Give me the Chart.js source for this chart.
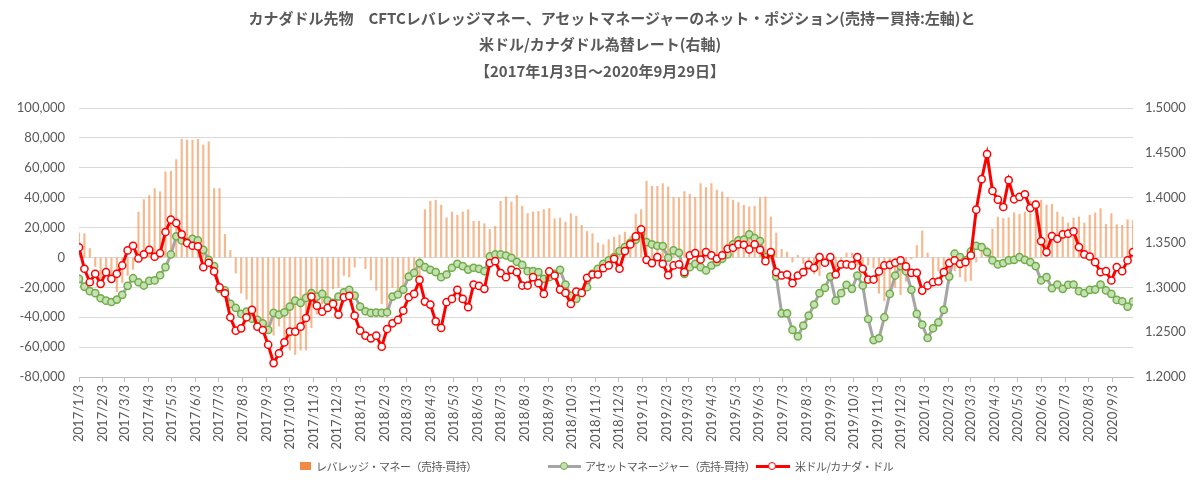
<!DOCTYPE html>
<html><head><meta charset="utf-8">
<script src="https://cdn.jsdelivr.net/npm/chart.js@4"></script>
<style>
body{margin:0;background:#fff;}
#wrap{position:relative;width:1200px;height:497px;overflow:hidden;}
canvas{position:absolute;left:0;top:0;}
.t{position:absolute;left:0;width:1200px;text-align:center;font:bold 15px "Noto Sans CJK JP";color:#595959;line-height:20px;white-space:nowrap;}
.lg{position:absolute;top:456px;height:20px;font:11px "Noto Sans CJK JP";color:#595959;line-height:20px;white-space:nowrap;letter-spacing:-0.5px;}
.sw{position:absolute;}
</style></head>
<body><div id="wrap">
<canvas id="c" width="1200" height="497"></canvas>
<div class="t" style="top:8px;left:12px">カナダドル先物　CFTCレバレッジマネー、アセットマネージャーのネット・ポジション(売持ー買持:左軸)と</div>
<div class="t" style="top:34px">米ドル/カナダドル為替レート(右軸)</div>
<div class="t" style="top:61px">【2017年1月3日～2020年9月29日】</div>
<div class="sw" style="left:300px;top:462px;width:11px;height:8px;background:#F08A45"></div>
<div class="lg" style="left:316px">レバレッジ・マネー（売持-買持）</div>
<div class="sw" style="left:548px;top:465px;width:33px;height:3px;background:#A5A5A5"></div>
<div class="sw" style="left:560px;top:462px;width:6px;height:6px;border:1.5px solid #70AD47;border-radius:50%;background:#C5E0B4"></div>
<div class="lg" style="left:585px">アセットマネージャー（売持-買持）</div>
<div class="sw" style="left:756px;top:465px;width:34px;height:3px;background:#FF0000"></div>
<div class="sw" style="left:768px;top:462px;width:6px;height:6px;border:1.5px solid #FF0000;border-radius:50%;background:#fff"></div>
<div class="lg" style="left:795px">米ドル/カナダ・ドル</div>
</div>
<script>
// weekly data, 2017/1/3 .. 2020/9/29 (every Tuesday)
const startDate = '2017/1/3';
const levMoney = [
16500,15900,6000,-6000,-14000,-12500,-13000,-23000,-17000,-12000,
-8000,30400,38700,41400,46000,44000,57300,57700,65500,79200,
78500,78500,79000,75200,77400,46100,46100,15400,4700,-10500,
-23900,-28000,-36000,-42000,-48000,-50000,-52000,-46000,-55000,-62000,
-65000,-62000,-62000,-47000,-38000,-31000,-32000,-21000,-20000,-12000,
-13000,-6500,-500,-7500,-15000,-22000,-31000,-40000,-20000,-22000,
-20000,-13000,-9000,-20000,32000,37600,38300,34900,26600,30400,
28200,30400,32000,24200,24200,22600,18800,20800,37600,40500,
37100,41600,34200,29300,30400,30900,32000,32700,25900,26400,
23700,29300,27700,21500,17400,15900,9800,8500,11900,13600,
15000,17000,14000,29000,32000,51000,47600,47600,49400,47200,
40000,39800,44100,42300,40000,49400,46800,49400,45000,43800,
40000,38300,36700,34900,33800,34200,40000,40500,27100,16300,
5400,3600,-3100,1500,-4000,-8000,-11000,-12000,-5000,1000,
-9000,-6000,3000,3000,-5000,-11000,-5000,-7000,-24000,-29000,
-27000,-20000,-25000,-16000,-1000,8000,17700,3000,-16000,-9000,
-11000,-17000,-9000,-13000,-16000,-15400,-3000,4000,7000,19000,
27000,26000,26600,30000,28900,30400,37600,38300,38300,35000,
35600,30400,27100,23000,26400,27100,23000,28200,29800,32700,
22100,29300,21900,21500,25300,24800];
const assetMgr = [
-14300,-19500,-22600,-23900,-27300,-28900,-29800,-28200,-25000,-19000,
-13900,-16600,-18800,-15700,-15400,-11900,-6500,2000,14100,11400,
10300,12500,11400,5100,-1600,-5800,-21000,-22100,-31100,-33800,
-37800,-36200,-41000,-41800,-44100,-48500,-37100,-38300,-36700,-32900,
-28900,-30400,-27100,-23900,-26200,-24400,-28900,-30400,-26200,-23300,
-21700,-25500,-32900,-36000,-37100,-36900,-37100,-36700,-26200,-24800,
-21500,-12800,-10300,-3800,-6500,-8300,-9800,-13200,-11400,-6900,
-4300,-5800,-8100,-6900,-7600,-9200,700,2000,2000,1300,
-200,-2900,-5000,-9200,-9200,-9800,-14300,-13200,-11000,-8300,
-18100,-25500,-27700,-23300,-19900,-11000,-7600,-4300,-2000,200,
4300,6900,9800,11900,15900,10300,8700,7800,7600,-200,
4700,3100,-11000,-6500,-4300,-6500,-8700,-5400,-3100,-900,
2000,8700,11400,11900,15400,13000,11000,200,2000,-12800,
-37400,-37400,-48500,-52800,-45600,-38900,-31500,-23900,-20400,-12800,
-28900,-23900,-18300,-21000,-12100,-18800,-41200,-55300,-54100,-40000,
-24400,-12100,-5800,-9200,-21700,-37800,-45000,-53900,-47400,-43400,
-35100,-12800,2500,200,-2000,4000,7800,6900,3600,-2000,
-4700,-3800,-2000,-1600,200,-1600,-3100,-5800,-15400,-13200,
-20600,-18100,-21000,-18300,-18100,-22600,-23900,-21700,-21500,-18100,
-22100,-24400,-28400,-29300,-32900,-29500];
const usdcad = [
1.3445,1.3207,1.3057,1.3151,1.3039,1.3169,1.3095,1.3151,1.3244,1.3412,
1.3464,1.3322,1.3367,1.3419,1.3341,1.3382,1.3617,1.3755,1.3717,1.3591,
1.3494,1.3464,1.3456,1.3225,1.3274,1.3177,1.3001,1.2934,1.2666,1.2517,
1.2543,1.2666,1.2748,1.2561,1.2524,1.2360,1.2155,1.2263,1.2386,1.2506,
1.2506,1.2561,1.2658,1.2897,1.2796,1.2729,1.2770,1.2815,1.2696,1.2889,
1.2904,1.2684,1.2517,1.2461,1.2431,1.2461,1.2338,1.2535,1.2599,1.2636,
1.2740,1.2889,1.2927,1.3083,1.2841,1.2808,1.2621,1.2547,1.2834,1.2871,
1.2972,1.2871,1.2778,1.3031,1.3016,1.2983,1.3270,1.3292,1.3158,1.3113,
1.3195,1.3169,1.3020,1.3020,1.3113,1.3046,1.2927,1.3177,1.3132,1.2975,
1.2938,1.2815,1.2953,1.2938,1.3106,1.3143,1.3143,1.3214,1.3244,1.3318,
1.3207,1.3404,1.3479,1.3568,1.3646,1.3307,1.3270,1.3337,1.3262,1.3136,
1.3244,1.3255,1.3169,1.3356,1.3382,1.3310,1.3393,1.3356,1.3318,1.3356,
1.3430,1.3441,1.3479,1.3475,1.3423,1.3479,1.3419,1.3292,1.3393,1.3169,
1.3132,1.3143,1.3046,1.3132,1.3169,1.3251,1.3218,1.3337,1.3274,1.3337,
1.3143,1.3255,1.3255,1.3244,1.3337,1.3207,1.3087,1.3087,1.3177,1.3244,
1.3251,1.3274,1.3300,1.3233,1.3162,1.3162,1.2964,1.3020,1.3057,1.3065,
1.3169,1.3270,1.3300,1.3262,1.3281,1.3356,1.3866,1.4206,1.4485,1.4075,
1.3978,1.3896,1.4195,1.3982,1.4008,1.4038,1.3885,1.3922,1.3516,1.3393,
1.3572,1.3542,1.3590,1.3598,1.3624,1.3449,1.3367,1.3344,1.3281,1.3169,
1.3180,1.3076,1.3225,1.3180,1.3300,1.3393];
const monthTickLabels = [
'2017/1/3','2017/2/3','2017/3/3','2017/4/3','2017/5/3','2017/6/3','2017/7/3','2017/8/3','2017/9/3','2017/10/3','2017/11/3','2017/12/3',
'2018/1/3','2018/2/3','2018/3/3','2018/4/3','2018/5/3','2018/6/3','2018/7/3','2018/8/3','2018/9/3','2018/10/3','2018/11/3','2018/12/3',
'2019/1/3','2019/2/3','2019/3/3','2019/4/3','2019/5/3','2019/6/3','2019/7/3','2019/8/3','2019/9/3','2019/10/3','2019/11/3','2019/12/3',
'2020/1/3','2020/2/3','2020/3/3','2020/4/3','2020/5/3','2020/6/3','2020/7/3','2020/8/3','2020/9/3'];
const leftTicks = {min:-80000, max:100000, step:20000};
const rightTicks = {min:1.2, max:1.5, step:0.05};

const DAY = 86400000;
function toUTC(s){const p=s.split('/').map(Number);return Date.UTC(p[0],p[1]-1,p[2]);}
const t0 = toUTC(startDate);
const dayOf = s => Math.round((toUTC(s)-t0)/DAY);
const weekDays = usdcad.map((_,i)=>i*7);
const endDay = weekDays[weekDays.length-1];
const tickDays = monthTickLabels.map(dayOf);
const pts = arr => arr.map((v,i)=>({x:weekDays[i], y:v}));

const numFont = {family:'Lato', size:13};
new Chart(document.getElementById('c'), {
  type:'bar',
  data:{datasets:[
    {type:'line', label:'米ドル/カナダ・ドル', data:pts(usdcad), yAxisID:'y2',
     borderColor:'#FF0000', borderWidth:3, pointRadius:3.6, pointBackgroundColor:'#FFFFFF',
     pointBorderColor:'#FF0000', pointBorderWidth:1.5, tension:0, order:0},
    {type:'line', label:'アセットマネージャー（売持-買持）', data:pts(assetMgr), yAxisID:'y',
     borderColor:'#A5A5A5', borderWidth:3, pointRadius:3.6, pointBackgroundColor:'#C5E0B4',
     pointBorderColor:'#70AD47', pointBorderWidth:1.5, tension:0, order:1},
    {type:'bar', label:'レバレッジ・マネー（売持-買持）', data:pts(levMoney), yAxisID:'y',
     backgroundColor:'rgba(240,138,69,0.6)', barThickness:1.5, maxBarThickness:1.5, borderWidth:0, order:2}
  ]},
  options:{
    responsive:false, animation:false,
    layout:{padding:{top:108,left:0,right:0,bottom:0}},
    plugins:{legend:{display:false}, tooltip:{enabled:false}},
    scales:{
      x:{type:'linear', min:0, max:endDay, offset:false,
         afterBuildTicks:s=>{s.ticks=tickDays.map(v=>({value:v}));},
         afterFit:s=>{s.height=120;},
         ticks:{autoSkip:false, maxRotation:90, minRotation:90, padding:3, color:'#595959', font:numFont,
                callback:(v)=>{const k=tickDays.indexOf(v);return k>=0?monthTickLabels[k]:'';}},
         grid:{drawOnChartArea:false, drawTicks:true, tickLength:5, color:'#BFBFBF', offset:false},
         border:{color:'#BFBFBF'}},
      y:{position:'left', min:leftTicks.min, max:leftTicks.max,
         afterFit:s=>{s.width=79;},
         ticks:{stepSize:leftTicks.step, padding:14, color:'#595959', font:numFont,
                callback:v=>v.toLocaleString('en-US')},
         grid:{color:'#D9D9D9', drawTicks:false}, border:{display:false}},
      y2:{position:'right', min:rightTicks.min, max:rightTicks.max,
         afterFit:s=>{s.width=67;},
         ticks:{stepSize:rightTicks.step, padding:12, color:'#595959', font:numFont,
                callback:v=>Number(v).toFixed(4)},
         grid:{display:false, drawTicks:false}, border:{display:false}}
    }
  }
});
</script>
</body></html>
